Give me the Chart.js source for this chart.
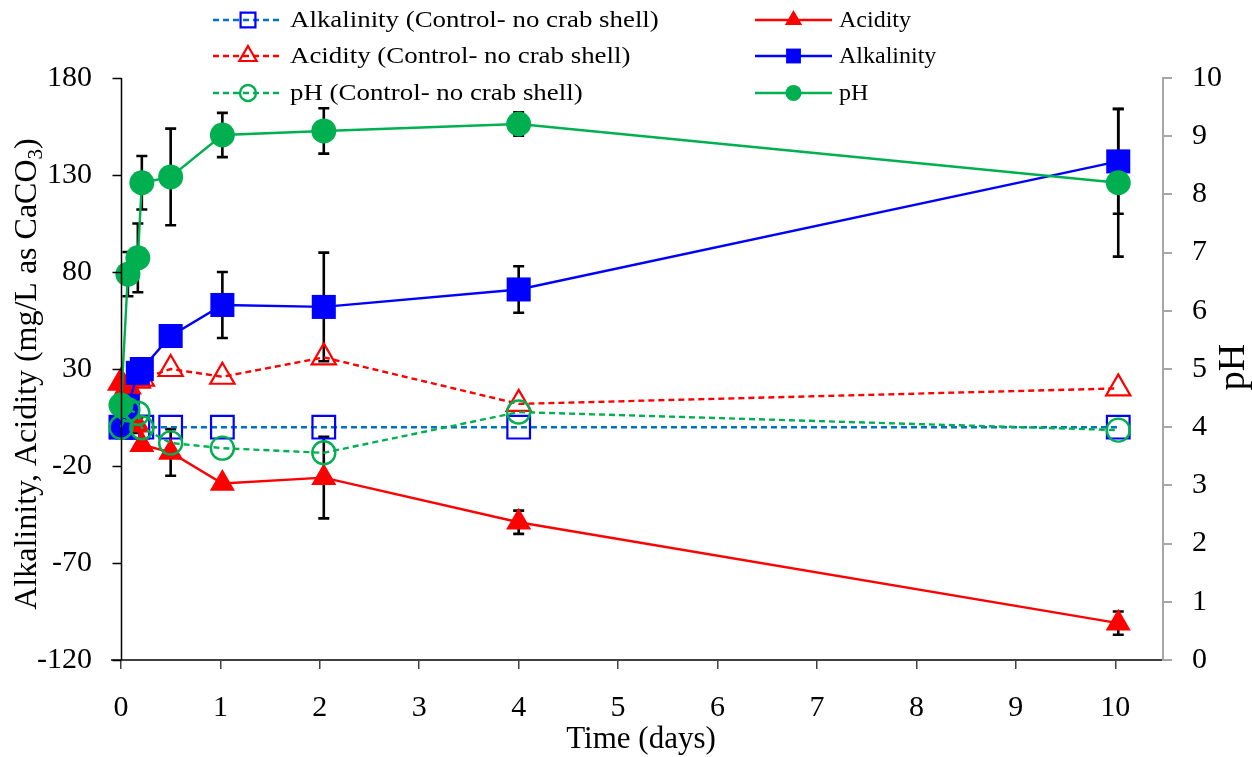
<!DOCTYPE html>
<html lang="en">
<head>
<meta charset="UTF-8">
<title>Alkalinity, acidity and pH over time</title>
<script src="https://cdn.jsdelivr.net/npm/chart.js@4"></script>
<style>
  html, body { margin: 0; padding: 0; background: #fff; }
  .wrap { width: 1252px; height: 757px; position: relative; }
</style>
</head>
<body>
<div class="wrap"><canvas id="myChart"></canvas></div>
<script>
// sampling times (days) and the measured series
const days = [0, 0.07, 0.17, 0.21, 0.5, 1.02, 2.04, 4.0, 10.03];
const dayTicks = [0, 1, 2, 3, 4, 5, 6, 7, 8, 9, 10];

const alkalinity = [0, 11, 28, 30, 47, 63, 62, 71, 137];
const alkalinityErr = [0, 0, 0, 0, 0, 17, 28, 12, 27];
const acidity = [23, 20, 1, -9, -13, -29, -26, -49, -101];
const acidityErr = [0, 0, 4, 0, 12, 0, 21, 6, 6];
const pH = [4.38, 6.63, 6.91, 8.2, 8.3, 9.02, 9.09, 9.21, 8.2];
const pHErr = [0, 0.38, 0.59, 0.46, 0.83, 0.38, 0.39, 0.2, 1.27];

const alkalinityControl = [0, 0, 0, 0, 0, 0, 0, 0, 0];
const acidityControl = [23, 21, 24, 25, 30, 26, 36, 12, 20];
const pHControl = [4.0, 4.3, 4.24, 3.99, 3.73, 3.64, 3.56, 4.26, 3.95];

const serif = '"Liberation Serif", "Times New Roman", serif';
const GREEN = '#00B050', RED = '#FF0000', BLUE = '#0000FF', LBLUE = '#0070C0';

function pts(ys) {
    return days.map((d, i) => ({ x: d, y: ys[i] }));
}

const datasets = [
    {
        label: 'pH', data: pts(pH), yAxisID: 'y1', errors: pHErr, order: 0,
        borderColor: GREEN, backgroundColor: GREEN, borderWidth: 2.4,
        pointStyle: 'circle', pointRadius: 12.5, pointBorderWidth: 0
    },
    {
        label: 'pH (Control- no crab shell)', data: pts(pHControl), yAxisID: 'y1', order: 1,
        borderColor: GREEN, backgroundColor: 'rgba(0,0,0,0)', borderWidth: 2.4, borderDash: [6, 4],
        pointStyle: 'circle', pointRadius: 11.5, pointBorderWidth: 2.4, pointBorderColor: GREEN
    },
    {
        label: 'Alkalinity', data: pts(alkalinity), yAxisID: 'y', errors: alkalinityErr, order: 2,
        borderColor: BLUE, backgroundColor: BLUE, borderWidth: 2.4,
        pointStyle: 'rect', pointRadius: 17, pointBorderWidth: 0
    },
    {
        label: 'Acidity', data: pts(acidity), yAxisID: 'y', errors: acidityErr, order: 3,
        borderColor: RED, backgroundColor: RED, borderWidth: 2.4,
        pointStyle: 'triangle', pointRadius: 14.5, pointBorderWidth: 0
    },
    {
        label: 'Acidity (Control- no crab shell)', data: pts(acidityControl), yAxisID: 'y', order: 4,
        borderColor: RED, backgroundColor: 'rgba(0,0,0,0)', borderWidth: 2.4, borderDash: [6, 4],
        pointStyle: 'triangle', pointRadius: 14, pointBorderWidth: 2.2, pointBorderColor: RED
    },
    {
        label: 'Alkalinity (Control- no crab shell)', data: pts(alkalinityControl), yAxisID: 'y', order: 5,
        borderColor: LBLUE, backgroundColor: 'rgba(0,0,0,0)', borderWidth: 2.4, borderDash: [6, 4],
        pointStyle: 'rect', pointRadius: 16, pointBorderWidth: 2.2, pointBorderColor: BLUE
    }
];
datasets.forEach(d => { d.clip = false; d.tension = 0; d.fill = false; });

// legend in two columns: [dataset label, column, row]
const legendLayout = [
    ['Alkalinity (Control- no crab shell)', 0, 0],
    ['Acidity (Control- no crab shell)', 0, 1],
    ['pH (Control- no crab shell)', 0, 2],
    ['Acidity', 1, 0],
    ['Alkalinity', 1, 1],
    ['pH', 1, 2]
];

function drawMarker(ctx, ds, x, y, r) {
    const opts = { pointStyle: ds.pointStyle, radius: r, rotation: 0, borderWidth: ds.pointBorderWidth };
    ctx.save();
    ctx.setLineDash([]);
    ctx.fillStyle = ds.backgroundColor;
    ctx.strokeStyle = ds.pointBorderColor || ds.borderColor;
    ctx.lineWidth = ds.pointBorderWidth;
    Chart.helpers.drawPoint(ctx, opts, x, y);
    ctx.restore();
}

const errorBars = {
    id: 'errorBars',
    beforeDatasetsDraw(chart) {
        const ctx = chart.ctx;
        const xs = chart.scales.x;
        ctx.save();
        ctx.strokeStyle = '#000';
        ctx.lineWidth = 2.6;
        chart.data.datasets.forEach(ds => {
            if (!ds.errors) return;
            const ys = chart.scales[ds.yAxisID];
            ds.data.forEach((p, i) => {
                const e = ds.errors[i];
                if (!e) return;
                const px = xs.getPixelForValue(p.x);
                const top = ys.getPixelForValue(p.y + e);
                const bot = ys.getPixelForValue(p.y - e);
                ctx.beginPath();
                ctx.moveTo(px, top); ctx.lineTo(px, bot);
                ctx.moveTo(px - 5.5, top); ctx.lineTo(px + 5.5, top);
                ctx.moveTo(px - 5.5, bot); ctx.lineTo(px + 5.5, bot);
                ctx.stroke();
            });
        });
        ctx.restore();
    }
};

const frame = {
    id: 'frame',
    afterDraw(chart) {
        const ctx = chart.ctx;
        const xs = chart.scales.x, ys = chart.scales.y;
        const area = chart.chartArea;
        ctx.save();

        // left value axis crosses at day 0
        const x0 = Math.round(xs.getPixelForValue(0)) + 0.5;
        ctx.strokeStyle = '#000';
        ctx.lineWidth = 1.5;
        ctx.beginPath();
        ctx.moveTo(x0, area.top); ctx.lineTo(x0, area.bottom);
        ys.ticks.forEach(t => {
            const py = Math.round(ys.getPixelForValue(t.value)) + 0.5;
            ctx.moveTo(x0 - 9, py); ctx.lineTo(x0, py);
        });
        ctx.stroke();

        // axis titles
        ctx.fillStyle = '#000';
        ctx.font = '31px ' + serif;
        ctx.textAlign = 'center';
        ctx.textBaseline = 'middle';
        ctx.fillText('Time (days)', 641, 740);

        ctx.save();
        ctx.translate(1244, 367);
        ctx.rotate(-Math.PI / 2);
        ctx.font = '38px ' + serif;
        ctx.textBaseline = 'alphabetic';
        ctx.fillText('pH', 0, 0);
        ctx.restore();

        ctx.save();
        ctx.translate(36, 374);
        ctx.rotate(-Math.PI / 2);
        ctx.textAlign = 'left';
        ctx.textBaseline = 'alphabetic';
        const main = 'Alkalinity, Acidity (mg/L as CaCO', sub = '3', tail = ')';
        ctx.font = '32px ' + serif;
        const w1 = ctx.measureText(main).width, w3 = ctx.measureText(tail).width;
        ctx.font = '21px ' + serif;
        const w2 = ctx.measureText(sub).width;
        const tx = -(w1 + w2 + w3) / 2;
        ctx.font = '32px ' + serif;
        ctx.fillText(main, tx, 0);
        ctx.font = '21px ' + serif;
        ctx.fillText(sub, tx + w1, 6);
        ctx.font = '32px ' + serif;
        ctx.fillText(tail, tx + w1 + w2, 0);
        ctx.restore();

        // legend
        const colX = [213, 755], rowY = [20, 56, 93], sampleW = [70, 77];
        const stretch = [1.12, 1];   // first-column labels run a little wider
        ctx.font = '24px ' + serif;
        ctx.textAlign = 'left';
        ctx.textBaseline = 'middle';
        legendLayout.forEach(([label, c, r]) => {
            const ds = chart.data.datasets.find(d => d.label === label);
            const lx = colX[c], ly = rowY[r], w = sampleW[c];
            ctx.save();
            ctx.strokeStyle = ds.borderColor;
            ctx.lineWidth = ds.borderWidth;
            ctx.setLineDash(ds.borderDash || []);
            ctx.beginPath();
            ctx.moveTo(lx, ly); ctx.lineTo(lx + w, ly);
            ctx.stroke();
            ctx.restore();
            const rad = ds.pointStyle === 'rect' ? 10.5 : (ds.pointStyle === 'triangle' ? 10 : 8);
            drawMarker(ctx, ds, lx + w / 2, ly, rad);
            ctx.save();
            ctx.fillStyle = '#000';
            ctx.translate(lx + w + 7, ly + 1);
            ctx.scale(stretch[c], 1);
            ctx.fillText(label, 0, 0);
            ctx.restore();
        });

        ctx.restore();
    }
};

new Chart('myChart', {
    type: 'line',
    data: { datasets },
    options: {
        responsive: true,
        maintainAspectRatio: false,
        animation: false,
        layout: { padding: { top: 78, left: 0, right: 0, bottom: 0 } },
        plugins: { legend: { display: false }, tooltip: { enabled: false } },
        scales: {
            x: {
                type: 'linear',
                min: -0.09,
                max: 10.48,
                afterBuildTicks(s) { s.ticks = dayTicks.map(v => ({ value: v })); },
                afterFit(s) { s.height = 97; },
                grid: { display: true, drawOnChartArea: false, tickLength: 9, color: '#404040', lineWidth: 1.5 },
                border: { display: true, color: '#404040', width: 2 },
                ticks: { padding: 21, color: '#000', font: { family: serif, size: 30 }, maxRotation: 0 }
            },
            y: {
                position: 'left',
                min: -120,
                max: 180,
                ticks: { stepSize: 50, padding: 20, color: '#000', font: { family: serif, size: 30 } },
                afterFit(s) { s.width = 112; },
                grid: { display: false, drawTicks: false },
                border: { display: false }
            },
            y1: {
                position: 'right',
                min: 0,
                max: 10,
                ticks: { stepSize: 1, padding: 20, color: '#000', font: { family: serif, size: 30 } },
                afterFit(s) { s.width = 89; },
                grid: { display: true, drawOnChartArea: false, tickLength: 9, color: '#a6a6a6', lineWidth: 2 },
                border: { display: true, color: '#a6a6a6', width: 2 }
            }
        }
    },
    plugins: [errorBars, frame]
});
</script>
</body>
</html>
